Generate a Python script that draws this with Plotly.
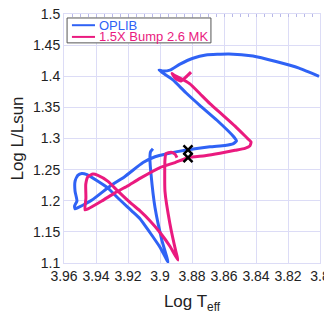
import plotly.graph_objects as go

# Evolutionary tracks (log Teff, log L/Lsun)
oplib_teff = [3.9044, 3.9059, 3.9063, 3.9056, 3.9031, 3.8988, 3.8950, 3.9000, 3.9063, 3.9125,
              3.9177, 3.9263, 3.9325, 3.9388, 3.9456, 3.9489, 3.9514, 3.9531, 3.9531, 3.9519,
              3.9534, 3.9531, 3.9513, 3.9425, 3.9313, 3.9219, 3.9106, 3.9031, 3.8956, 3.8825,
              3.8688, 3.8594, 3.8544, 3.8522, 3.8538, 3.8644, 3.8750, 3.8838, 3.8919, 3.8963,
              3.9006, 3.8981, 3.8938, 3.8875, 3.8794, 3.8713, 3.8569, 3.8419, 3.8275, 3.8131,
              3.8006]
oplib_lum = [1.2834, 1.2787, 1.2676, 1.2423, 1.1886, 1.1364, 1.1016, 1.1253, 1.1490, 1.1712,
             1.1838, 1.2044, 1.2202, 1.2312, 1.2418, 1.2439, 1.2407, 1.2312, 1.2154, 1.1996,
             1.1917, 1.1870, 1.1890, 1.2012, 1.2233, 1.2391, 1.2613, 1.2707, 1.2755, 1.2818,
             1.2866, 1.2889, 1.2913, 1.2960, 1.3024, 1.3293, 1.3530, 1.3735, 1.3941, 1.4020,
             1.4099, 1.4083, 1.4099, 1.4194, 1.4289, 1.4341, 1.4357, 1.4325, 1.4236, 1.4130,
             1.3999]

bump_teff = [3.8894, 3.8906, 3.8931, 3.8963, 3.8969, 3.8969, 3.8938, 3.8900, 3.8888, 3.8938,
             3.9000, 3.9063, 3.9125, 3.9177, 3.9263, 3.9325, 3.9388, 3.9419, 3.9450, 3.9464,
             3.9463, 3.9469, 3.9450, 3.9364, 3.9281, 3.9206, 3.9125, 3.9000, 3.8906, 3.8825,
             3.8719, 3.8625, 3.8531, 3.8469, 3.8438, 3.8431, 3.8456, 3.8531, 3.8606, 3.8688,
             3.8750, 3.8813, 3.8875, 3.8913, 3.8925, 3.8900, 3.8869, 3.8838, 3.8806]
bump_lum = [1.2692, 1.2747, 1.2779, 1.2755, 1.2660, 1.2154, 1.1632, 1.1174, 1.1048, 1.1269,
            1.1490, 1.1680, 1.1838, 1.1949, 1.2154, 1.2312, 1.2407, 1.2428, 1.2391, 1.2265,
            1.2044, 1.1854, 1.1870, 1.1996, 1.2127, 1.2233, 1.2360, 1.2534, 1.2613, 1.2692,
            1.2723, 1.2763, 1.2810, 1.2842, 1.2881, 1.2945, 1.3008, 1.3198, 1.3372, 1.3561,
            1.3719, 1.3878, 1.3972, 1.4020, 1.4043, 1.3957, 1.3925, 1.3988, 1.4067]

mark_teff = [3.8825, 3.8825]
mark_lum = [1.2818, 1.2692]

x_ticks = [3.96, 3.94, 3.92, 3.90, 3.88, 3.86, 3.84, 3.82, 3.80]
x_labels = ["3.96", "3.94", "3.92", "3.9", "3.88", "3.86", "3.84", "3.82", "3.8"]
y_ticks = [1.1, 1.15, 1.2, 1.25, 1.3, 1.35, 1.4, 1.45, 1.5]
y_labels = ["1.1", "1.15", "1.2", "1.25", "1.3", "1.35", "1.4", "1.45", "1.5"]

series_names = ["OPLIB", "1.5X Bump 2.6 MK"]

BLUE = "#2f62f5"
PINK = "#ea1a7f"
GRID = "#dcdcf6"

fig = go.Figure()
fig.add_trace(go.Scatter(
    x=oplib_teff, y=oplib_lum, mode="lines", name=series_names[0],
    line=dict(color=BLUE, width=3, shape="spline", smoothing=0.5)))
fig.add_trace(go.Scatter(
    x=bump_teff, y=bump_lum, mode="lines", name=series_names[1],
    line=dict(color=PINK, width=3, shape="spline", smoothing=0.5)))
fig.add_trace(go.Scatter(
    x=mark_teff, y=mark_lum, mode="markers",
    marker=dict(symbol="x-thin", size=9, line=dict(color="black", width=2.5))))
# carries the top axis with its small ticks
fig.add_trace(go.Scatter(
    x=mark_teff, y=mark_lum, mode="markers", xaxis="x2",
    marker=dict(opacity=0), hoverinfo="skip"))

# hand-drawn legend box like the original
fig.add_shape(type="rect", xref="paper", yref="paper", x0=0.012, x1=0.574, y0=0.884, y1=0.984,
              line=dict(color="#555", width=1), fillcolor="white", layer="above")
for i, (name, col) in enumerate(zip(series_names, [BLUE, PINK])):
    yy = 0.955 - i * 0.047
    fig.add_shape(type="line", xref="paper", yref="paper", x0=0.031, x1=0.121, y0=yy, y1=yy,
                  line=dict(color=col, width=2), layer="above")
    fig.add_annotation(xref="paper", yref="paper", x=0.127, y=yy, xanchor="left", yanchor="middle",
                       text=name, showarrow=False, font=dict(size=13, color=col))

# page body adds an 8px margin, so the figure is 8px smaller than the window
fig.update_layout(
    width=324, height=312,
    margin=dict(l=56, r=12, t=6, b=57),
    paper_bgcolor="white", plot_bgcolor="white",
    font=dict(family="Liberation Sans, Arial, sans-serif", size=14, color="#222"),
    showlegend=False,
    xaxis=dict(range=[3.96, 3.80], tickvals=x_ticks, ticktext=x_labels,
               showgrid=True, gridcolor=GRID, zeroline=False, automargin=False,
               showline=True, linecolor=GRID, mirror=True, ticklabeloverflow="allow",
               ticks="", title=dict(text="Log T<sub>eff</sub>", standoff=12)),
    xaxis2=dict(range=[3.96, 3.80], overlaying="x", side="top", automargin=False,
                showticklabels=False, showgrid=False, zeroline=False,
                ticks="inside", ticklen=3, tickcolor="#b8b8e8", dtick=0.005, tick0=3.8),
    yaxis=dict(range=[1.1, 1.5], tickvals=y_ticks, ticktext=y_labels,
               showgrid=True, gridcolor=GRID, zeroline=False, automargin=False,
               showline=True, linecolor=GRID, mirror=True, ticklabeloverflow="allow",
               ticks="", title=dict(text="Log L/Lsun", standoff=12)),
)

fig.write_html("out.html")
